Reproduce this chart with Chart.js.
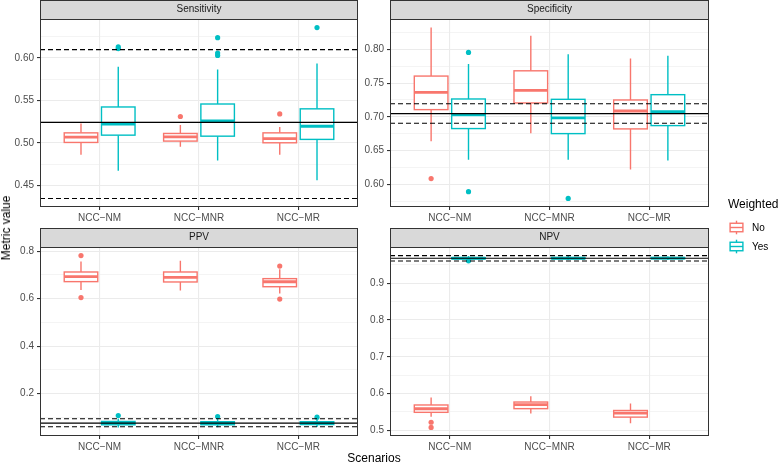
<!DOCTYPE html>
<html>
<head>
<meta charset="utf-8">
<script src="https://cdn.jsdelivr.net/npm/chart.js@4.4.1/dist/chart.umd.min.js"></script>
<style>
body { margin: 0; background: #fff; font-family: "Liberation Sans", Arial, sans-serif; }
#wrap { position: relative; width: 778px; height: 463px; overflow: hidden; }
canvas.panel { position: absolute; left: 0; top: 0; }
.ytitle { position: absolute; left: 6px; top: 228px; font-size: 12px; color: #000;
  transform: translate(-50%, -50%) rotate(-90deg); white-space: nowrap; }
.xtitle { position: absolute; left: 374px; top: 458px; font-size: 12px; color: #000;
  transform: translate(-50%, -50%); white-space: nowrap; }
.legend { position: absolute; left: 728px; top: 197px; }
.legend .title { font-size: 12px; color: #000; margin-bottom: 7px; }
.legend .row { display: flex; align-items: center; height: 19px; font-size: 10px; color: #000; }
.legend svg { margin-right: 7px; }
</style>
</head>
<body>
<div id="wrap">
  <canvas id="sens" class="panel" width="778" height="463"></canvas>
  <canvas id="spec" class="panel" width="778" height="463"></canvas>
  <canvas id="ppv" class="panel" width="778" height="463"></canvas>
  <canvas id="npv" class="panel" width="778" height="463"></canvas>
  <div class="ytitle">Metric value</div>
  <div class="xtitle">Scenarios</div>
  <div class="legend" id="legend"></div>
</div>
<script>
// Categories and groups
const scenarios = ['NCC\u2212NM', 'NCC\u2212MNR', 'NCC\u2212MR'];
const groups = ['No', 'Yes'];

// Box stats per scenario: [lower whisker, q1, median, q3, upper whisker]
const sensNo = [[0.486, 0.5004, 0.5067, 0.5117, 0.5227], [0.4953, 0.502, 0.507, 0.511, 0.521], [0.486, 0.500, 0.505, 0.5117, 0.5187]];
const sensYes = [[0.467, 0.509, 0.5219, 0.5422, 0.5895], [0.479, 0.5078, 0.5258, 0.5457, 0.5863], [0.4558, 0.504, 0.5195, 0.540, 0.5934]];
const sensNoOut = [[], [0.531], [0.534]];
const sensYesOut = [[0.611, 0.613], [0.6239, 0.6058, 0.603], [0.6358]];
const sensRef = [0.524, 0.4344, 0.6098];   // solid, dashed, dashed
const sensTicks = [0.45, 0.50, 0.55, 0.60];
const sensTickLabels = ['0.45', '0.50', '0.55', '0.60'];

const specNo = [[0.6639, 0.7107, 0.7364, 0.7605, 0.8325], [0.6757, 0.7206, 0.7393, 0.7683, 0.8205], [0.6217, 0.6821, 0.7087, 0.725, 0.7867]];
const specYes = [[0.6363, 0.6826, 0.7028, 0.7265, 0.7783], [0.6363, 0.6751, 0.6984, 0.726, 0.793], [0.6353, 0.687, 0.7077, 0.7329, 0.7906]];
const specNoOut = [[0.6084], [], []];
const specYesOut = [[0.7956, 0.589], [0.5789], []];
const specRef = [0.7047, 0.6905, 0.7195];
const specTicks = [0.60, 0.65, 0.70, 0.75, 0.80];
const specTickLabels = ['0.60', '0.65', '0.70', '0.75', '0.80'];

const ppvNo = [[0.636, 0.6714, 0.6925, 0.712, 0.756], [0.634, 0.670, 0.689, 0.712, 0.759], [0.622, 0.650, 0.671, 0.684, 0.723]];
const ppvYes = [[0.058, 0.069, 0.076, 0.083, 0.094], [0.059, 0.069, 0.075, 0.082, 0.093], [0.060, 0.070, 0.076, 0.082, 0.092]];
const ppvNoOut = [[0.781, 0.6045], [], [0.7367, 0.598]];
const ppvYesOut = [[0.108], [0.104], [0.101]];
const ppvRef = [0.076, 0.061, 0.0945];
const ppvTicks = [0.2, 0.4, 0.6, 0.8];
const ppvTickLabels = ['0.2', '0.4', '0.6', '0.8'];

const npvNo = [[0.537, 0.549, 0.5587, 0.569, 0.589], [0.5455, 0.559, 0.570, 0.577, 0.593], [0.519, 0.536, 0.547, 0.554, 0.573]];
const npvYes = [[0.962, 0.9665, 0.968, 0.9695, 0.974], [0.963, 0.9667, 0.968, 0.9697, 0.974], [0.963, 0.9668, 0.9682, 0.9698, 0.9735]];
const npvNoOut = [[0.522, 0.508], [], []];
const npvYesOut = [[0.961], [], []];
const npvRef = [0.968, 0.9606, 0.9752];
const npvTicks = [0.5, 0.6, 0.7, 0.8, 0.9];
const npvTickLabels = ['0.5', '0.6', '0.7', '0.8', '0.9'];

// Styling
const RED = '#F8766D';
const TEAL = '#00BFC4';
const DODGE = 0.1875;     // box centre offset from category
const HALF_BOX = 0.16875; // half box width in category units
const W = 778, H = 463, XAXIS_H = 20;

const panels = [
  { id: 'sens', title: 'Sensitivity', no: sensNo, yes: sensYes, noOut: sensNoOut, yesOut: sensYesOut,
    ref: sensRef, ticks: sensTicks, labels: sensTickLabels, area: { l: 40, t: 19, r: 358, b: 207 }, yW: 40 },
  { id: 'spec', title: 'Specificity', no: specNo, yes: specYes, noOut: specNoOut, yesOut: specYesOut,
    ref: specRef, ticks: specTicks, labels: specTickLabels, area: { l: 390, t: 19, r: 709, b: 207 }, yW: 32 },
  { id: 'ppv', title: 'PPV', no: ppvNo, yes: ppvYes, noOut: ppvNoOut, yesOut: ppvYesOut,
    ref: ppvRef, ticks: ppvTicks, labels: ppvTickLabels, area: { l: 40, t: 247, r: 358, b: 436 }, yW: 40 },
  { id: 'npv', title: 'NPV', no: npvNo, yes: npvYes, noOut: npvNoOut, yesOut: npvYesOut,
    ref: npvRef, ticks: npvTicks, labels: npvTickLabels, area: { l: 390, t: 247, r: 709, b: 436 }, yW: 32 }
];

// ggplot-like range: data extent expanded by 5%
function yRange(p) {
  const all = [].concat(...p.no, ...p.yes, ...p.noOut, ...p.yesOut, p.ref);
  const lo = Math.min(...all), hi = Math.max(...all);
  const pad = (hi - lo) * 0.05;
  return [lo - pad, hi + pad];
}

// major ticks plus minor ticks halfway between (and beyond the ends when inside range)
function yTickList(p, lo, hi) {
  const step = p.ticks[1] - p.ticks[0];
  const out = p.ticks.map(v => ({ value: v, minor: false }));
  for (let v = p.ticks[0] - step / 2; v <= hi; v += step) {
    if (v >= lo) out.push({ value: +v.toFixed(4), minor: true });
  }
  return out.sort((a, b) => a.value - b.value);
}

const boxPlugin = {
  id: 'boxes',
  beforeDatasetsDraw(chart, args, opts) {
    const { ctx, scales: { x, y } } = chart;
    const half = x.getPixelForValue(HALF_BOX) - x.getPixelForValue(0);
    opts.series.forEach(s => {
      s.stats.forEach((st, i) => {
        const cx = x.getPixelForValue(i + s.shift);
        const [lo, q1, med, q3, hi] = st.map(v => y.getPixelForValue(v));
        ctx.save();
        ctx.strokeStyle = s.color;
        ctx.lineWidth = 1.4;
        ctx.beginPath();
        ctx.moveTo(cx, hi); ctx.lineTo(cx, q3);
        ctx.moveTo(cx, q1); ctx.lineTo(cx, lo);
        ctx.stroke();
        ctx.fillStyle = '#fff';
        ctx.fillRect(cx - half, q3, half * 2, q1 - q3);
        ctx.strokeRect(cx - half, q3, half * 2, q1 - q3);
        ctx.lineWidth = 2.8;
        ctx.beginPath();
        ctx.moveTo(cx - half, med); ctx.lineTo(cx + half, med);
        ctx.stroke();
        ctx.restore();
      });
    });
  }
};

const refPlugin = {
  id: 'refs',
  afterDatasetsDraw(chart, args, opts) {
    const { ctx, chartArea: a, scales: { y } } = chart;
    opts.values.forEach((v, k) => {
      const py = y.getPixelForValue(v);
      ctx.save();
      ctx.strokeStyle = '#000';
      ctx.lineWidth = 1.1;
      ctx.setLineDash(k === 0 ? [] : [5, 3]);
      ctx.beginPath();
      ctx.moveTo(a.left, py); ctx.lineTo(a.right, py);
      ctx.stroke();
      ctx.restore();
    });
  }
};

const framePlugin = {
  id: 'frame',
  afterDraw(chart, args, opts) {
    const { ctx, chartArea: a } = chart;
    ctx.save();
    ctx.strokeStyle = '#333333';
    ctx.lineWidth = 1;
    ctx.strokeRect(a.left + 0.5, a.top + 0.5, a.right - a.left - 1, a.bottom - a.top - 1);
    // strip
    ctx.fillStyle = '#D9D9D9';
    ctx.fillRect(a.left + 0.5, a.top - 19 + 0.5, a.right - a.left - 1, 19);
    ctx.strokeRect(a.left + 0.5, a.top - 19 + 0.5, a.right - a.left - 1, 19);
    ctx.fillStyle = '#1A1A1A';
    ctx.font = '10px "Liberation Sans", Arial, sans-serif';
    ctx.textAlign = 'center';
    ctx.textBaseline = 'middle';
    ctx.fillText(opts.title, (a.left + a.right) / 2, a.top - 9.5);
    ctx.restore();
  }
};

function points(outs, shift) {
  const pts = [];
  outs.forEach((list, i) => list.forEach(v => pts.push({ x: i + shift, y: v })));
  return pts;
}

function makePanel(p) {
  const [lo, hi] = yRange(p);
  const yt = yTickList(p, lo, hi);
  const font = { family: '"Liberation Sans", Arial, sans-serif', size: 10 };
  new Chart(document.getElementById(p.id), {
    type: 'scatter',
    data: {
      datasets: [
        { label: groups[0], data: points(p.noOut, -DODGE), backgroundColor: RED, pointRadius: 2.6, borderWidth: 0 },
        { label: groups[1], data: points(p.yesOut, DODGE), backgroundColor: TEAL, pointRadius: 2.6, borderWidth: 0 }
      ]
    },
    options: {
      responsive: false,
      animation: false,
      events: [],
      layout: { padding: { left: p.area.l - p.yW, top: p.area.t, right: W - p.area.r, bottom: H - p.area.b - XAXIS_H } },
      plugins: {
        legend: { display: false },
        tooltip: { enabled: false },
        boxes: { series: [
          { stats: p.no, color: RED, shift: -DODGE },
          { stats: p.yes, color: TEAL, shift: DODGE }
        ] },
        refs: { values: p.ref },
        frame: { title: p.title }
      },
      scales: {
        x: {
          type: 'linear', min: -0.6, max: 2.6,
          afterBuildTicks: s => { s.ticks = scenarios.map((c, i) => ({ value: i })); },
          afterFit: s => { s.height = XAXIS_H; },
          border: { display: false },
          grid: { color: '#EBEBEB', lineWidth: 1.1, tickColor: '#333333', tickLength: 3 },
          ticks: { autoSkip: false, maxRotation: 0, padding: 2, color: '#4D4D4D', font,
            callback: v => scenarios[v] }
        },
        y: {
          type: 'linear', min: lo, max: hi,
          afterBuildTicks: s => { s.ticks = yt.map(t => ({ value: t.value, minor: t.minor })); },
          afterFit: s => { s.width = p.yW; },
          border: { display: false },
          grid: {
            color: '#EBEBEB',
            lineWidth: c => (c.tick && c.tick.minor ? 0.55 : 1.1),
            tickColor: c => (c.tick && c.tick.minor ? 'rgba(0,0,0,0)' : '#333333'),
            tickLength: 3
          },
          ticks: { autoSkip: false, padding: 3, color: '#4D4D4D', font,
            callback: v => { const k = p.ticks.indexOf(v); return k < 0 ? '' : p.labels[k]; } }
        }
      }
    },
    plugins: [boxPlugin, refPlugin, framePlugin]
  });
}

panels.forEach(makePanel);

// Legend
function keySvg(color) {
  return '<svg width="17" height="17" viewBox="0 0 17 17">' +
    '<line x1="8.5" y1="1.7" x2="8.5" y2="15.3" stroke="' + color + '" stroke-width="1.4"/>' +
    '<rect x="2.1" y="4.25" width="12.8" height="8.5" fill="#fff" stroke="' + color + '" stroke-width="1.4"/>' +
    '<line x1="2.1" y1="8.5" x2="14.9" y2="8.5" stroke="' + color + '" stroke-width="1.4"/></svg>';
}
const legendColors = [RED, TEAL];
document.getElementById('legend').innerHTML = '<div class="title">Weighted</div>' +
  groups.map((g, i) => '<div class="row">' + keySvg(legendColors[i]) + '<span>' + g + '</span></div>').join('');
</script>
</body>
</html>
